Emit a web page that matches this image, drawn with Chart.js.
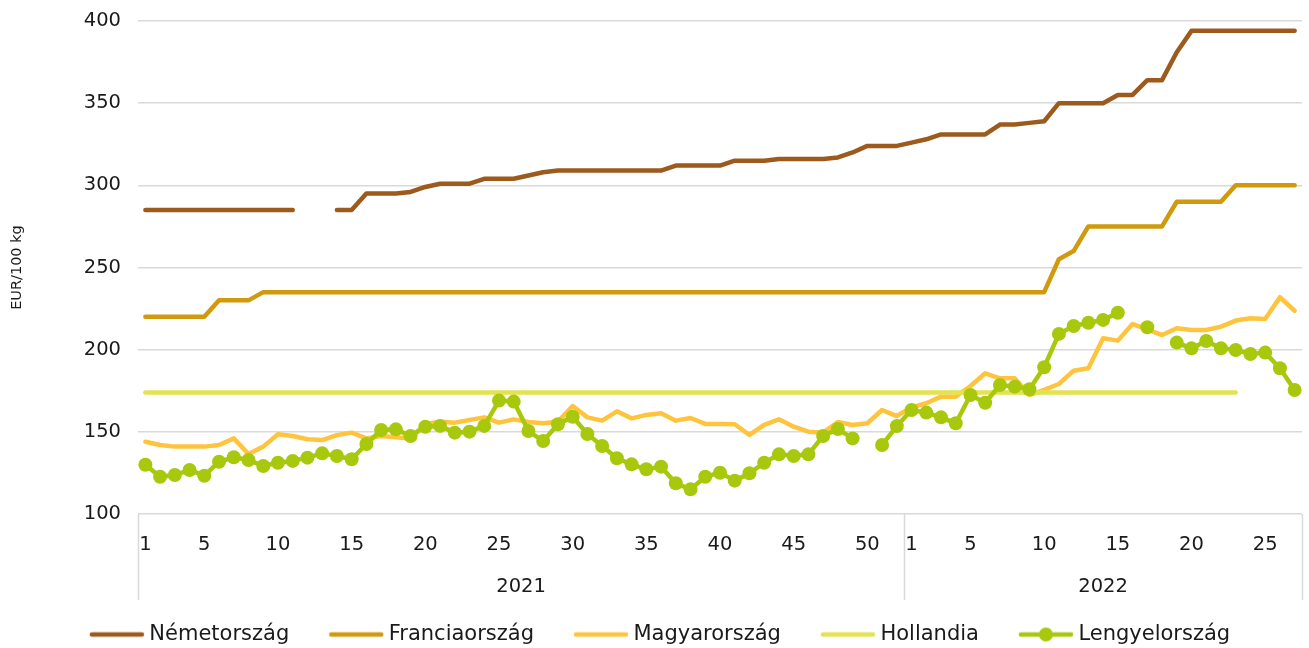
<!DOCTYPE html>
<html lang="hu">
<head>
<meta charset="utf-8">
<title>EUR/100 kg</title>
<script src="https://cdn.jsdelivr.net/npm/chart.js@4.4.1/dist/chart.umd.min.js"></script>
<style>
  html, body { margin: 0; padding: 0; background: #fff; }
  #wrap { width: 1309px; height: 648px; position: relative; }
</style>
</head>
<body>
<div id="wrap"><canvas id="line-chart"></canvas></div>
<script>
// hetek (kategóriák)
const weeks2021 = Array.from({ length: 52 }, (_, i) => i + 1);
const weeks2022 = Array.from({ length: 27 }, (_, i) => i + 1);
const years = ['2021', '2022'];
const yTicks = [100, 150, 200, 250, 300, 350, 400];

// sorozatok: 2021 1-52. hét, majd 2022 1-27. hét
const nemetorszag = [
  285, 285, 285, 285, 285, 285, 285, 285, 285, 285, 285, null, null, 285, 285, 295, 295, 295, 296, 299,
  301, 301, 301, 304, 304, 304, 306, 308, 309, 309, 309, 309, 309, 309, 309, 309, 312, 312, 312, 312,
  315, 315, 315, 316, 316, 316, 316, 317, 320, 324, 324, 324,
  326, 328, 331, 331, 331, 331, 337, 337, 338, 339, 350, 350, 350, 350, 355, 355, 364, 364,
  381, 394, 394, 394, 394, 394, 394, 394, 394,
];
const franciaorszag = [
  220, 220, 220, 220, 220, 230, 230, 230, 235, 235, 235, 235, 235, 235, 235, 235, 235, 235, 235, 235,
  235, 235, 235, 235, 235, 235, 235, 235, 235, 235, 235, 235, 235, 235, 235, 235, 235, 235, 235, 235,
  235, 235, 235, 235, 235, 235, 235, 235, 235, 235, 235, 235,
  235, 235, 235, 235, 235, 235, 235, 235, 235, 235, 255, 260, 275, 275, 275, 275, 275, 275,
  290, 290, 290, 290, 300, 300, 300, 300, 300,
];
const magyarorszag = [
  144, 142, 141, 141, 141, 142, 146, 136.5, 141, 148.5, 147.5, 145.5, 145, 148, 149.5, 146,
  147.5, 146.7, 146, 154.8, 156.2, 155.6, 157.2, 158.8, 155.6, 157.6, 156, 155.2, 156.2, 165.7, 158.8, 156.8,
  162.5, 158.2, 160.3, 161.3, 156.8, 158.4, 154.8, 154.8, 154.6, 148.1, 154.2, 157.6, 153.1, 150.1, 149.5, 156,
  154.2, 155.2, 163.3, 159.6,
  164.9, 167.4, 171.4, 171.4, 177.9, 185.6, 182.6, 182.6, 172.4, 175.5, 179.1, 187.2, 188.7, 206.9, 205.5, 215.6,
  212.4, 208.9, 213, 212, 212, 214, 217.7, 219.1, 218.7, 231.9, 223.7,
];
const hollandia = [
  174, 174, 174, 174, 174, 174, 174, 174, 174, 174, 174, 174, 174, 174, 174, 174, 174, 174, 174, 174,
  174, 174, 174, 174, 174, 174, 174, 174, 174, 174, 174, 174, 174, 174, 174, 174, 174, 174, 174, 174,
  174, 174, 174, 174, 174, 174, 174, 174, 174, 174, 174, 174,
  174, 174, 174, 174, 174, 174, 174, 174, 174, 174, 174, 174, 174, 174, 174, 174, 174, 174,
  174, 174, 174, 174, 174, null, null, null, null,
];
const lengyelorszag = [
  130, 122.7, 123.7, 126.8, 123.3, 131.8, 134.5, 132.9, 129.2, 131.2, 132.3, 134.3, 136.9, 135.3, 133.3, 142.6,
  151.1, 151.5, 147.5, 153.1, 153.6, 149.5, 150.1, 153.6, 169, 168.4, 150.5, 144.4, 154.6, 159.2, 148.7, 141.4,
  133.9, 130.2, 127.2, 128.8, 118.7, 115, 122.7, 125.1, 120.3, 124.8, 131.2, 136.3, 135.3, 136.3, 147.5, 151.7,
  146, null, 142, 153.5,
  163.3, 161.7, 158.8, 155.2, 172.4, 167.7, 178.5, 177.5, 175.9, 189.3, 209.6, 214.4, 216.4, 218.1, 222.5, null,
  213.6, null, 204.3, 200.8, 205.3, 200.8, 199.8, 197.4, 198.2, 188.7, 175.5,
];

const labels = [...weeks2021, ...weeks2022];
const yearStart = [-0.5, weeks2021.length - 0.5, labels.length - 0.5];
const yearMid = [(yearStart[0] + yearStart[1]) / 2, (yearStart[1] + yearStart[2]) / 2];

const colors = ['#9C5A1C', '#D09A0C', '#FFC43D', '#E3E34F', '#A8C80D'];
const txt = '#1a1a1a';
const gridColor = '#D9D9D9';
const family = "'DejaVu Sans', 'Liberation Sans', Arial, sans-serif";
const tickFont = { family, size: 19.5 };
const legendFont = { family, size: 21 };

// jelmagyarázat ikonjai (vonal + pont)
const boxW = 64;
function legendIcon(color, dot) {
  const c = document.createElement('canvas');
  c.width = boxW + 12;
  c.height = 18;
  const g = c.getContext('2d');
  g.strokeStyle = color;
  g.lineWidth = 4.5;
  g.lineCap = 'round';
  g.beginPath();
  g.moveTo(boxW - 41, 9);
  g.lineTo(boxW + 9, 9);
  g.stroke();
  if (dot) {
    g.fillStyle = color;
    g.beginPath();
    g.arc(boxW - 16, 9, 7, 0, Math.PI * 2);
    g.fill();
  }
  return c;
}
const icons = colors.map((c, i) => legendIcon(c, i === 4));

function lineSet(label, data, i, extra) {
  return Object.assign({
    label,
    data,
    borderColor: colors[i],
    backgroundColor: colors[i],
    borderWidth: 4.5,
    borderCapStyle: 'round',
    borderJoinStyle: 'round',
    pointRadius: 0,
    pointHoverRadius: 0,
    tension: 0,
    spanGaps: false,
    order: 5 - i,
  }, extra || {});
}

// év elválasztó vonalak
const yearLines = {
  id: 'yearLines',
  afterDraw(chart) {
    const x2 = chart.scales.x2;
    const ctx = chart.ctx;
    ctx.save();
    ctx.strokeStyle = gridColor;
    ctx.lineWidth = 1.5;
    yearStart.forEach((v) => {
      const px = Math.round(x2.getPixelForValue(v)) + 0.5;
      ctx.beginPath();
      ctx.moveTo(px, chart.chartArea.bottom);
      ctx.lineTo(px, x2.bottom + 1);
      ctx.stroke();
    });
    ctx.restore();
  },
};

const ctx = document.getElementById('line-chart').getContext('2d');
new Chart(ctx, {
  type: 'line',
  data: {
    labels,
    datasets: [
      lineSet('Németország', nemetorszag, 0),
      lineSet('Franciaország', franciaorszag, 1),
      lineSet('Magyarország', magyarorszag, 2),
      lineSet('Hollandia', hollandia, 3),
      lineSet('Lengyelország', lengyelorszag, 4, {
        pointRadius: 7,
        pointBorderWidth: 0,
        pointBackgroundColor: colors[4],
      }),
    ],
  },
  options: {
    responsive: true,
    maintainAspectRatio: false,
    animation: false,
    events: [],
    layout: { padding: { top: 21, right: 4, left: 0, bottom: -7 } },
    scales: {
      x: {
        type: 'category',
        offset: true,
        grid: { display: false, tickLength: 19 },
        border: { display: false },
        ticks: {
          autoSkip: false,
          maxRotation: 0,
          padding: 0,
          color: txt,
          font: tickFont,
          callback(value) {
            const w = this.getLabelForValue(value);
            return w === 1 || w % 5 === 0 ? String(w) : '';
          },
        },
        afterFit(s) { s.height = 50; },
      },
      x2: {
        type: 'linear',
        position: 'bottom',
        min: yearStart[0],
        max: yearStart[2],
        grid: { display: false, tickLength: 11 },
        border: { display: false },
        afterBuildTicks(s) { s.ticks = yearMid.map((v) => ({ value: v })); },
        ticks: {
          padding: 0,
          color: txt,
          font: tickFont,
          callback(value) { return years[yearMid.indexOf(value)]; },
        },
        afterFit(s) { s.height = 35; },
      },
      y: {
        min: yTicks[0],
        max: yTicks[yTicks.length - 1],
        grid: { color: gridColor, lineWidth: 1.5, drawTicks: true, tickLength: 17, tickColor: 'rgba(0,0,0,0)' },
        border: { display: false },
        afterBuildTicks(s) { s.ticks = yTicks.map((v) => ({ value: v })); },
        ticks: { padding: 0, color: txt, font: tickFont },
        title: { display: true, text: 'EUR/100 kg', color: txt, font: { family, size: 14.5 }, padding: { top: 9, bottom: 0 } },
        afterFit(s) { s.width = 138; },
      },
    },
    plugins: {
      tooltip: { enabled: false },
      legend: {
        position: 'bottom',
        labels: {
          usePointStyle: true,
          pointStyleWidth: boxW,
          padding: 25,
          color: txt,
          font: legendFont,
          sort: (a, b) => a.datasetIndex - b.datasetIndex,
          generateLabels(chart) {
            const items = Chart.defaults.plugins.legend.labels.generateLabels(chart);
            items.forEach((it) => { it.pointStyle = icons[it.datasetIndex]; });
            return items;
          },
        },
      },
    },
  },
  plugins: [yearLines],
});
</script>
</body>
</html>
